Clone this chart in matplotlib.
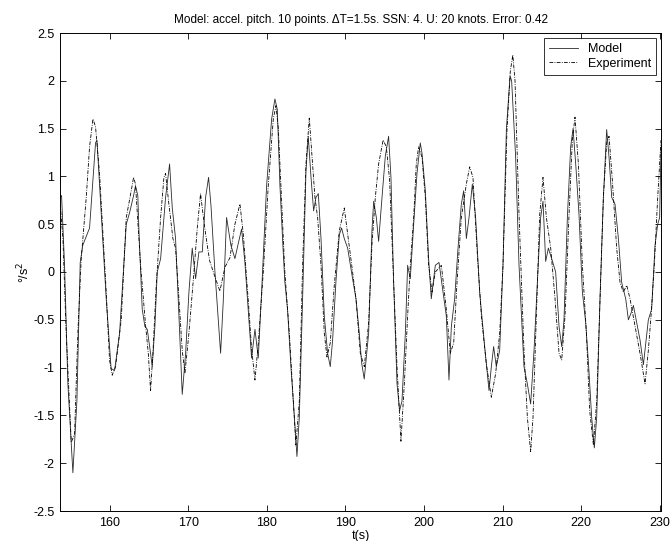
import matplotlib
matplotlib.use("Agg")
import matplotlib.pyplot as plt

plt.rcParams['font.family'] = ['Liberation Sans', 'DejaVu Sans']

t_model = [153.73, 153.9, 154.28, 154.7, 155.34, 155.85, 156.27, 156.6, 157.46, 158.22, 158.4, 158.73,
           159.58, 160.2, 160.64, 161.28, 162.13, 162.55, 163.06, 163.3, 163.6, 163.74, 164.16, 164.5,
           164.8, 165.22, 165.43, 165.77, 166.07, 166.5, 167.13, 167.64, 167.98, 168.4, 168.83, 169.25,
           169.68, 170.1, 170.52, 170.95, 171.37, 171.8, 172.22, 172.6, 172.9, 173.41, 173.83, 174.13,
           174.47, 174.89, 175.44, 175.95, 176.38, 176.8, 177.22, 177.73, 178.07, 178.5, 178.92, 179.35,
           179.98, 180.62, 181.04, 181.34, 181.68, 182.1, 182.3, 182.65, 183.08, 183.5, 183.84, 184.14,
           184.56, 184.99, 185.28, 185.62, 185.96, 186.26, 186.56, 186.9, 187.32, 187.74, 188.08, 188.38,
           188.8, 189.23, 189.52, 189.86, 190.29, 190.92, 191.35, 191.77, 192.07, 192.4, 192.96, 193.38,
           193.6, 193.94, 194.23, 194.66, 195.08, 195.5, 195.8, 196.14, 196.57, 196.9, 197.2, 197.63,
           197.92, 198.26, 198.69, 199.11, 199.53, 199.75, 200.17, 200.59, 200.93, 201.44, 201.91, 202.42,
           202.84, 203.18, 203.48, 203.9, 204.33, 204.75, 205.05, 205.39, 205.73, 206.15, 206.57, 207.08,
           207.72, 208.27, 208.57, 208.86, 209.2, 209.63, 210.05, 210.48, 210.95, 211.15, 211.41, 211.66,
           212.09, 212.72, 213.15, 213.57, 214.0, 214.42, 214.84, 215.14, 215.48, 215.82, 216.24, 216.75,
           217.18, 217.52, 217.81, 218.24, 218.66, 218.96, 219.3, 219.72, 220.15, 220.57, 220.95, 221.33,
           221.67, 221.97, 222.39, 222.82, 223.24, 223.54, 223.88, 224.3, 224.73, 225.15, 225.66, 226.0,
           226.34, 226.64, 227.06, 227.48, 227.91, 228.54, 228.96, 229.39, 229.73, 229.98, 230.15]
y_model = [0.78, 0.8, 0.07, -1.17, -2.1, -1.35, 0.1, 0.28, 0.46, 1.35, 1.38, 0.92,
           -0.28, -1.01, -1.03, -0.64, 0.5, 0.62, 0.8, 0.9, 0.8, 0.43, -0.39, -0.57,
           -0.6, -0.85, -0.99, -0.57, 0.0, 0.14, 0.78, 1.13, 0.67, 0.35, -0.46, -1.28,
           -0.85, -0.21, 0.25, -0.07, 0.21, 0.21, 0.78, 0.99, 0.7, 0.0, -0.5, -0.85,
           -0.3, 0.57, 0.28, 0.14, 0.3, 0.45, 0.1, -0.5, -0.9, -0.6, -0.9, -0.2,
           0.9, 1.6, 1.81, 1.7, 0.9, 0.2, -0.1, -0.4, -1.0, -1.5, -1.93, -1.52,
           -0.28, 1.06, 1.42, 1.0, 0.64, 0.78, 0.82, 0.35, -0.46, -0.85, -0.99, -0.71,
           -0.1, 0.39, 0.46, 0.35, 0.25, -0.07, -0.28, -0.64, -0.95, -1.12, -0.64, 0.43,
           0.74, 0.57, 0.32, 0.78, 1.21, 1.42, 0.99, -0.11, -1.17, -1.45, -1.35, -0.64,
           0.07, -0.07, 0.5, 1.03, 1.35, 1.24, 0.85, 0.14, -0.28, 0.07, 0.1, -0.21,
           -0.46, -1.13, -0.57, -0.28, 0.25, 0.71, 0.85, 0.35, 0.57, 0.92, 0.57, -0.21,
           -0.78, -1.24, -0.99, -0.78, -0.99, -0.82, 0.07, 1.49, 2.05, 2.0, 1.6, 1.2,
           0.07, -0.99, -1.17, -1.38, -0.82, -0.11, 0.57, 0.74, 0.11, 0.25, 0.14, 0.0,
           -0.57, -0.78, -0.5, 0.57, 1.31, 1.5, 1.13, 0.6, -0.21, -0.53, -0.99, -1.52,
           -1.84, -1.52, -0.28, 0.78, 1.49, 1.2, 0.78, 0.71, 0.35, -0.11, -0.28, -0.5,
           -0.43, -0.35, -0.53, -0.71, -0.97, -0.5, -0.39, 0.28, 0.5, 0.57, 1.3]

t_exp = [153.73, 154.07, 154.49, 155.13, 155.55, 155.97, 156.4, 157.04, 157.46, 157.89, 158.22, 158.73,
         159.58, 160.0, 160.34, 160.77, 161.49, 162.13, 162.76, 163.06, 163.3, 163.95, 164.6, 164.93,
         165.22, 165.52, 165.94, 166.5, 166.92, 167.13, 167.55, 168.06, 168.4, 168.83, 169.25, 169.59,
         170.1, 170.74, 171.16, 171.58, 172.0, 172.43, 172.73, 173.2, 174.04, 174.68, 175.32, 175.95,
         176.59, 177.01, 177.65, 178.07, 178.5, 178.92, 179.56, 180.19, 180.83, 181.17, 181.47, 181.97,
         182.3, 182.87, 183.5, 183.71, 184.14, 184.56, 184.99, 185.41, 185.83, 186.13, 186.47, 186.9,
         187.32, 187.66, 188.08, 188.59, 189.23, 189.86, 190.37, 190.92, 191.35, 191.9, 192.41, 192.96,
         193.38, 193.81, 194.23, 194.8, 195.21, 195.63, 196.06, 196.57, 197.07, 197.5, 197.92, 198.26,
         198.69, 199.02, 199.32, 199.75, 200.17, 200.59, 201.02, 201.44, 202.21, 202.84, 203.35, 203.78,
         204.2, 204.75, 205.39, 205.81, 206.23, 206.74, 207.3, 207.93, 208.57, 209.12, 209.63, 210.05,
         210.56, 210.98, 211.3, 211.58, 212.09, 212.72, 213.15, 213.57, 213.87, 214.29, 214.72, 215.14,
         215.57, 216.12, 216.67, 217.18, 217.52, 217.94, 218.45, 218.87, 219.21, 219.64, 220.15, 220.66,
         221.08, 221.55, 221.97, 222.39, 222.82, 223.24, 223.54, 223.96, 224.51, 224.94, 225.36, 225.79,
         226.21, 226.85, 227.48, 228.12, 228.54, 228.88, 229.3, 229.73, 230.15]
y_exp = [0.71, 0.35, -0.64, -1.78, -1.7, -0.64, 0.14, 0.78, 1.31, 1.6, 1.52, 1.03,
         -0.21, -0.92, -1.08, -0.99, -0.5, 0.57, 0.85, 0.99, 0.92, 0.07, -0.57, -0.85,
         -1.24, -0.85, -0.14, 0.57, 0.99, 1.03, 0.71, 0.35, 0.25, -0.28, -0.82, -1.06,
         -0.64, 0.0, 0.46, 0.82, 0.53, 0.28, 0.12, 0.0, -0.2, 0.05, 0.15, 0.5,
         0.71, 0.4, -0.3, -0.8, -1.13, -0.75, 0.0, 0.9, 1.6, 1.74, 1.5, 0.6,
         0.0, -0.64, -1.52, -1.81, -1.35, 0.07, 1.13, 1.61, 1.13, 0.78, 0.57, 0.07,
         -0.64, -0.89, -0.74, -0.14, 0.43, 0.67, 0.35, 0.0, -0.28, -0.85, -0.99, -0.53,
         0.28, 0.78, 1.13, 1.38, 1.31, 0.96, 0.07, -0.99, -1.77, -1.17, -0.46, 0.07,
         0.57, 1.13, 1.31, 1.2, 0.78, 0.07, -0.21, 0.0, 0.07, -0.39, -0.85, -0.74,
         -0.11, 0.57, 0.92, 1.1, 0.99, 0.25, -0.46, -0.96, -1.31, -1.06, -0.64, 0.07,
         1.49, 2.1, 2.27, 2.0, 0.6, -0.82, -1.52, -1.88, -1.52, -0.46, 0.6, 0.99,
         0.57, 0.25, -0.28, -0.85, -0.92, -0.46, 0.6, 1.38, 1.62, 1.13, 0.07, -0.64,
         -1.45, -1.81, -1.35, -0.28, 0.78, 1.35, 1.42, 0.96, 0.25, -0.11, -0.21, -0.14,
         -0.28, -0.57, -0.85, -1.17, -0.82, -0.46, 0.07, 0.78, 1.38]

x_ticks = [160, 170, 180, 190, 200, 210, 220, 230]
y_ticks = [-2.5, -2, -1.5, -1, -0.5, 0, 0.5, 1, 1.5, 2, 2.5]
y_tick_labels = ['-2.5', '-2', '-1.5', '-1', '-0.5', '0', '0.5', '1', '1.5', '2', '2.5']

fig = plt.figure(figsize=(6.7, 5.41), dpi=100)
ax = fig.add_axes([60 / 670, 1 - 511 / 541, 601 / 670, (511 - 33) / 541])

ax.plot(t_model, y_model, color='#2a2a2a', lw=0.6, label='Model')
ax.plot(t_exp, y_exp, color='black', lw=0.6, dashes=(4.5, 1.6, 1.0, 1.6), label='Experiment')

ax.set_xlim(153.7, 230.15)
ax.set_ylim(-2.5, 2.5)
ax.set_xticks(x_ticks)
ax.set_yticks(y_ticks)
ax.set_yticklabels(y_tick_labels)
ax.tick_params(direction='in', top=True, right=True, length=4.5, width=0.6, labelsize=9, pad=4)
for s in ax.spines.values():
    s.set_linewidth(0.7)

ax.set_title('Model: accel. pitch. 10 points. \u0394T=1.5s. SSN: 4. U: 20 knots. Error: 0.42',
             fontsize=8.5, pad=7)
ax.set_xlabel('t(s)', fontsize=9, labelpad=1)
ax.set_ylabel('\u00b0/s$^2$', fontsize=9, labelpad=1)

leg = ax.legend(loc='upper right', fontsize=9, frameon=True, fancybox=False, edgecolor='black',
                handlelength=2.3, borderaxespad=0.4, borderpad=0.4, labelspacing=0.2, handletextpad=0.8)
leg.get_frame().set_linewidth(0.7)

fig.savefig('out.png', dpi=100)
